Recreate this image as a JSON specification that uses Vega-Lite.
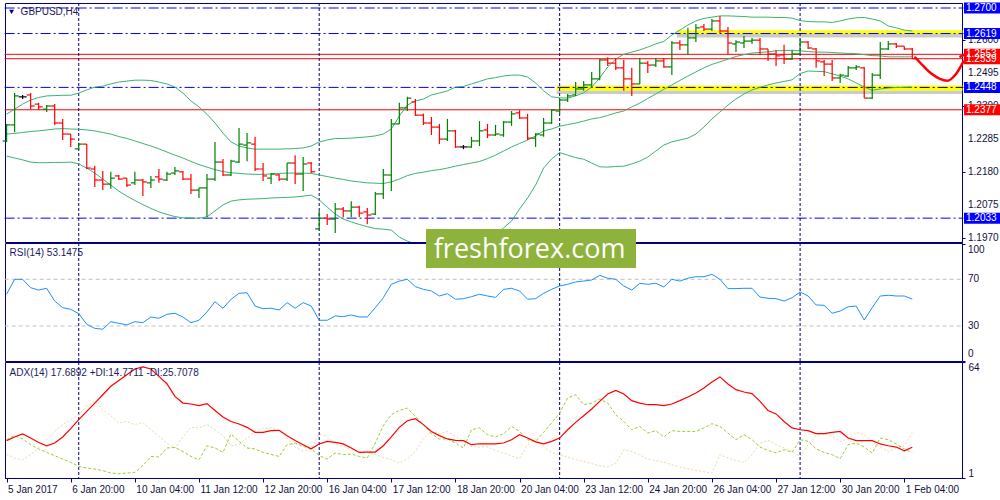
{
  "$schema": "https://vega.github.io/schema/vega-lite/v6.json",
  "background": "white",
  "padding": {"left": 2, "top": 2, "right": 0, "bottom": 0},
  "spacing": 1,
  "bounds": "flush",
  "config": {
    "view": {"stroke": "#000080", "strokeWidth": 1},
    "axis": {"labelFont": "Liberation Sans", "labelFontSize": 10, "labelColor": "#101040", "domainColor": "#000080", "tickColor": "#000080", "grid": false, "labelOverlap": false},
    "text": {"font": "Liberation Sans"}
  },
  "datasets": {
    "seps": [{"t": "9 Jan 00:00"}, {"t": "16 Jan 00:00"}, {"t": "23 Jan 00:00"}, {"t": "30 Jan 00:00"}],
    "bars": [
      {"t":"5 Jan 12:00","o":1.2278,"h":1.2332,"l":1.2275,"c":1.2329,"bu":1.2363,"bm":1.2300,"bl":1.2230,"rsi":57.2,"adx":21.3,"pdi":21.8,"mdi":13.7},
      {"t":"5 Jan 16:00","o":1.2329,"h":1.2430,"l":1.2306,"c":1.2421,"bu":1.2379,"bm":1.2302,"bl":1.2224,"rsi":70,"adx":23.3,"pdi":24,"mdi":11.9},
      {"t":"5 Jan 20:00","o":1.2418,"h":1.2424,"l":1.2411,"c":1.2418,"bu":1.2395,"bm":1.2305,"bl":1.2218,"rsi":70,"adx":24.9,"pdi":22.2,"mdi":10.9},
      {"t":"6 Jan 00:00","o":1.2424,"h":1.2430,"l":1.2379,"c":1.2389,"bu":1.2408,"bm":1.2308,"bl":1.2211,"rsi":62.8,"adx":22.7,"pdi":19.1,"mdi":13.7},
      {"t":"6 Jan 04:00","o":1.2395,"h":1.2399,"l":1.2376,"c":1.2386,"bu":1.2416,"bm":1.2310,"bl":1.2209,"rsi":60.8,"adx":20.3,"pdi":16.8,"mdi":17.3},
      {"t":"6 Jan 08:00","o":1.2379,"h":1.2392,"l":1.2370,"c":1.2389,"bu":1.2421,"bm":1.2313,"bl":1.2209,"rsi":62.3,"adx":18.5,"pdi":14.9,"mdi":21.8},
      {"t":"6 Jan 12:00","o":1.2389,"h":1.2395,"l":1.2329,"c":1.2335,"bu":1.2422,"bm":1.2316,"bl":1.2210,"rsi":51.4,"adx":20,"pdi":13.1,"mdi":26.3},
      {"t":"6 Jan 16:00","o":1.2335,"h":1.2348,"l":1.2281,"c":1.2300,"bu":1.2423,"bm":1.2317,"bl":1.2210,"rsi":45.7,"adx":23.3,"pdi":11.3,"mdi":30},
      {"t":"6 Jan 20:00","o":1.2300,"h":1.2300,"l":1.2259,"c":1.2284,"bu":1.2423,"bm":1.2316,"bl":1.2211,"rsi":44.3,"adx":27.8,"pdi":9.5,"mdi":32.7},
      {"t":"9 Jan 00:00","o":1.2253,"h":1.2272,"l":1.2249,"c":1.2268,"bu":1.2430,"bm":1.2315,"bl":1.2205,"rsi":40.5,"adx":32.7,"pdi":7.3,"mdi":35.4},
      {"t":"9 Jan 04:00","o":1.2268,"h":1.2268,"l":1.2189,"c":1.2192,"bu":1.2440,"bm":1.2313,"bl":1.2192,"rsi":31.5,"adx":37.2,"pdi":6.4,"mdi":39.9},
      {"t":"9 Jan 08:00","o":1.2189,"h":1.2199,"l":1.2132,"c":1.2154,"bu":1.2449,"bm":1.2310,"bl":1.2176,"rsi":28,"adx":41.7,"pdi":5.9,"mdi":42.6},
      {"t":"9 Jan 12:00","o":1.2154,"h":1.2183,"l":1.2122,"c":1.2141,"bu":1.2452,"bm":1.2305,"bl":1.2157,"rsi":27.2,"adx":46.2,"pdi":5,"mdi":38.1},
      {"t":"9 Jan 16:00","o":1.2141,"h":1.2180,"l":1.2126,"c":1.2160,"bu":1.2459,"bm":1.2300,"bl":1.2138,"rsi":33.7,"adx":50.8,"pdi":3.7,"mdi":34.8},
      {"t":"9 Jan 20:00","o":1.2167,"h":1.2170,"l":1.2154,"c":1.2157,"bu":1.2465,"bm":1.2292,"bl":1.2119,"rsi":32.3,"adx":54,"pdi":3.3,"mdi":30.9},
      {"t":"10 Jan 00:00","o":1.2160,"h":1.2160,"l":1.2132,"c":1.2138,"bu":1.2468,"bm":1.2286,"bl":1.2103,"rsi":30.9,"adx":57.1,"pdi":3.7,"mdi":31.7},
      {"t":"10 Jan 04:00","o":1.2145,"h":1.2180,"l":1.2138,"c":1.2154,"bu":1.2471,"bm":1.2278,"bl":1.2089,"rsi":33.7,"adx":60.2,"pdi":4,"mdi":30},
      {"t":"10 Jan 08:00","o":1.2154,"h":1.2157,"l":1.2103,"c":1.2148,"bu":1.2471,"bm":1.2270,"bl":1.2076,"rsi":32.8,"adx":61.3,"pdi":7.7,"mdi":31.2},
      {"t":"10 Jan 12:00","o":1.2145,"h":1.2167,"l":1.2129,"c":1.2154,"bu":1.2470,"bm":1.2262,"bl":1.2064,"rsi":37.7,"adx":60.2,"pdi":12.7,"mdi":27.2},
      {"t":"10 Jan 16:00","o":1.2164,"h":1.2189,"l":1.2145,"c":1.2157,"bu":1.2465,"bm":1.2253,"bl":1.2053,"rsi":36.6,"adx":56.2,"pdi":12.4,"mdi":23.6},
      {"t":"10 Jan 20:00","o":1.2154,"h":1.2180,"l":1.2151,"c":1.2173,"bu":1.2459,"bm":1.2243,"bl":1.2045,"rsi":40,"adx":52.2,"pdi":17.3,"mdi":20},
      {"t":"11 Jan 00:00","o":1.2176,"h":1.2195,"l":1.2170,"c":1.2183,"bu":1.2449,"bm":1.2233,"bl":1.2038,"rsi":40.9,"adx":45.3,"pdi":17.6,"mdi":17.3},
      {"t":"11 Jan 04:00","o":1.2180,"h":1.2183,"l":1.2154,"c":1.2157,"bu":1.2430,"bm":1.2224,"bl":1.2034,"rsi":37.7,"adx":41.7,"pdi":15.4,"mdi":23.3},
      {"t":"11 Jan 08:00","o":1.2157,"h":1.2173,"l":1.2110,"c":1.2122,"bu":1.2405,"bm":1.2213,"bl":1.2033,"rsi":32.8,"adx":41.2,"pdi":12.7,"mdi":28.5},
      {"t":"11 Jan 12:00","o":1.2122,"h":1.2129,"l":1.2097,"c":1.2129,"bu":1.2386,"bm":1.2203,"bl":1.2033,"rsi":34.9,"adx":40.3,"pdi":10.9,"mdi":28.2},
      {"t":"11 Jan 16:00","o":1.2129,"h":1.2173,"l":1.2037,"c":1.2157,"bu":1.2363,"bm":1.2195,"bl":1.2037,"rsi":42,"adx":41.4,"pdi":18.5,"mdi":30},
      {"t":"11 Jan 20:00","o":1.2157,"h":1.2275,"l":1.2151,"c":1.2211,"bu":1.2335,"bm":1.2187,"bl":1.2056,"rsi":50.8,"adx":37.7,"pdi":17.3,"mdi":27.2},
      {"t":"12 Jan 00:00","o":1.2211,"h":1.2221,"l":1.2167,"c":1.2170,"bu":1.2303,"bm":1.2181,"bl":1.2075,"rsi":45.2,"adx":34.1,"pdi":14.9,"mdi":24},
      {"t":"12 Jan 04:00","o":1.2170,"h":1.2218,"l":1.2167,"c":1.2214,"bu":1.2275,"bm":1.2177,"bl":1.2087,"rsi":52.9,"adx":31.7,"pdi":24.9,"mdi":18.5},
      {"t":"12 Jan 08:00","o":1.2211,"h":1.2319,"l":1.2208,"c":1.2268,"bu":1.2262,"bm":1.2175,"bl":1.2091,"rsi":58,"adx":30.3,"pdi":20.9,"mdi":19.1},
      {"t":"12 Jan 12:00","o":1.2265,"h":1.2303,"l":1.2214,"c":1.2272,"bu":1.2256,"bm":1.2173,"bl":1.2093,"rsi":58.5,"adx":28.5,"pdi":17.3,"mdi":22.7},
      {"t":"12 Jan 16:00","o":1.2268,"h":1.2291,"l":1.2183,"c":1.2189,"bu":1.2252,"bm":1.2172,"bl":1.2094,"rsi":47.1,"adx":25.8,"pdi":16.8,"mdi":26.3},
      {"t":"12 Jan 20:00","o":1.2189,"h":1.2208,"l":1.2151,"c":1.2167,"bu":1.2252,"bm":1.2172,"bl":1.2095,"rsi":44.8,"adx":25.8,"pdi":14.9,"mdi":28.2},
      {"t":"13 Jan 00:00","o":1.2160,"h":1.2176,"l":1.2141,"c":1.2173,"bu":1.2252,"bm":1.2173,"bl":1.2097,"rsi":45.2,"adx":26.7,"pdi":13.8,"mdi":28.2},
      {"t":"13 Jan 04:00","o":1.2170,"h":1.2173,"l":1.2151,"c":1.2157,"bu":1.2252,"bm":1.2175,"bl":1.2098,"rsi":43.7,"adx":26.9,"pdi":12.7,"mdi":26.3},
      {"t":"13 Jan 08:00","o":1.2157,"h":1.2208,"l":1.2151,"c":1.2208,"bu":1.2253,"bm":1.2176,"bl":1.2099,"rsi":50,"adx":24,"pdi":19.1,"mdi":22.7},
      {"t":"13 Jan 12:00","o":1.2208,"h":1.2233,"l":1.2141,"c":1.2173,"bu":1.2254,"bm":1.2176,"bl":1.2100,"rsi":45.2,"adx":21.4,"pdi":20,"mdi":17.8},
      {"t":"13 Jan 16:00","o":1.2173,"h":1.2227,"l":1.2119,"c":1.2205,"bu":1.2256,"bm":1.2176,"bl":1.2103,"rsi":50,"adx":19.1,"pdi":18.2,"mdi":15.4},
      {"t":"13 Jan 20:00","o":1.2208,"h":1.2211,"l":1.2176,"c":1.2180,"bu":1.2262,"bm":1.2175,"bl":1.2106,"rsi":47.1,"adx":16.9,"pdi":16.8,"mdi":17},
      {"t":"16 Jan 00:00","o":1.1999,"h":1.2056,"l":1.1995,"c":1.2033,"bu":1.2275,"bm":1.2170,"bl":1.2091,"rsi":34.9,"adx":19.5,"pdi":13.1,"mdi":25},
      {"t":"16 Jan 04:00","o":1.2033,"h":1.2046,"l":1.2011,"c":1.2030,"bu":1.2281,"bm":1.2165,"bl":1.2068,"rsi":34.9,"adx":20.9,"pdi":11.3,"mdi":23.5},
      {"t":"16 Jan 08:00","o":1.2030,"h":1.2081,"l":1.1986,"c":1.2062,"bu":1.2286,"bm":1.2160,"bl":1.2046,"rsi":38.6,"adx":20.3,"pdi":14.6,"mdi":19.1},
      {"t":"16 Jan 12:00","o":1.2062,"h":1.2068,"l":1.2037,"c":1.2056,"bu":1.2286,"bm":1.2156,"bl":1.2030,"rsi":38,"adx":19.5,"pdi":13.7,"mdi":18.2},
      {"t":"16 Jan 16:00","o":1.2056,"h":1.2087,"l":1.2037,"c":1.2068,"bu":1.2287,"bm":1.2151,"bl":1.2021,"rsi":39.4,"adx":17.3,"pdi":14,"mdi":16.4},
      {"t":"16 Jan 20:00","o":1.2068,"h":1.2072,"l":1.2037,"c":1.2049,"bu":1.2289,"bm":1.2148,"bl":1.2013,"rsi":37.7,"adx":14.9,"pdi":12.7,"mdi":15.4},
      {"t":"17 Jan 00:00","o":1.2053,"h":1.2065,"l":1.2014,"c":1.2043,"bu":1.2291,"bm":1.2145,"bl":1.2006,"rsi":37.7,"adx":15.1,"pdi":11.9,"mdi":15.4},
      {"t":"17 Jan 04:00","o":1.2046,"h":1.2116,"l":1.2043,"c":1.2110,"bu":1.2294,"bm":1.2144,"bl":1.2000,"rsi":45.7,"adx":15.1,"pdi":20,"mdi":13.7},
      {"t":"17 Jan 08:00","o":1.2110,"h":1.2189,"l":1.2094,"c":1.2170,"bu":1.2300,"bm":1.2143,"bl":1.1998,"rsi":54.2,"adx":18.5,"pdi":29.4,"mdi":12.2},
      {"t":"17 Jan 12:00","o":1.2170,"h":1.2348,"l":1.2119,"c":1.2332,"bu":1.2316,"bm":1.2148,"bl":1.1995,"rsi":65.7,"adx":23.3,"pdi":35.4,"mdi":10.9},
      {"t":"17 Jan 16:00","o":1.2332,"h":1.2399,"l":1.2332,"c":1.2383,"bu":1.2357,"bm":1.2157,"bl":1.1973,"rsi":68.5,"adx":28.5,"pdi":37.7,"mdi":9.1},
      {"t":"17 Jan 20:00","o":1.2383,"h":1.2418,"l":1.2373,"c":1.2414,"bu":1.2392,"bm":1.2168,"bl":1.1960,"rsi":70,"adx":32.1,"pdi":39,"mdi":11.3},
      {"t":"18 Jan 00:00","o":1.2402,"h":1.2411,"l":1.2357,"c":1.2360,"bu":1.2405,"bm":1.2175,"bl":1.1951,"rsi":63.7,"adx":33.2,"pdi":34.5,"mdi":15.4},
      {"t":"18 Jan 04:00","o":1.2360,"h":1.2364,"l":1.2329,"c":1.2335,"bu":1.2411,"bm":1.2179,"bl":1.1945,"rsi":61.4,"adx":30,"pdi":30,"mdi":22.7},
      {"t":"18 Jan 08:00","o":1.2335,"h":1.2354,"l":1.2297,"c":1.2322,"bu":1.2424,"bm":1.2184,"bl":1.1941,"rsi":60,"adx":26.3,"pdi":25.1,"mdi":26.3},
      {"t":"18 Jan 12:00","o":1.2322,"h":1.2332,"l":1.2268,"c":1.2284,"bu":1.2430,"bm":1.2187,"bl":1.1938,"rsi":55.7,"adx":24,"pdi":22.2,"mdi":25.1},
      {"t":"18 Jan 16:00","o":1.2284,"h":1.2348,"l":1.2278,"c":1.2310,"bu":1.2437,"bm":1.2192,"bl":1.1938,"rsi":57.7,"adx":22.2,"pdi":22.2,"mdi":26.3},
      {"t":"18 Jan 20:00","o":1.2310,"h":1.2313,"l":1.2256,"c":1.2259,"bu":1.2449,"bm":1.2198,"bl":1.1941,"rsi":52.9,"adx":21.4,"pdi":20,"mdi":23.6},
      {"t":"19 Jan 00:00","o":1.2259,"h":1.2265,"l":1.2252,"c":1.2259,"bu":1.2451,"bm":1.2203,"bl":1.1948,"rsi":53.4,"adx":21.3,"pdi":17.3,"mdi":20.9},
      {"t":"19 Jan 04:00","o":1.2259,"h":1.2291,"l":1.2256,"c":1.2278,"bu":1.2459,"bm":1.2208,"bl":1.1954,"rsi":55.1,"adx":19.1,"pdi":27.2,"mdi":18.2},
      {"t":"19 Jan 08:00","o":1.2278,"h":1.2341,"l":1.2262,"c":1.2310,"bu":1.2467,"bm":1.2213,"bl":1.1960,"rsi":57.2,"adx":19.6,"pdi":28.2,"mdi":17.8},
      {"t":"19 Jan 12:00","o":1.2313,"h":1.2332,"l":1.2287,"c":1.2297,"bu":1.2475,"bm":1.2222,"bl":1.1970,"rsi":55.7,"adx":19.5,"pdi":24.5,"mdi":18},
      {"t":"19 Jan 16:00","o":1.2297,"h":1.2329,"l":1.2294,"c":1.2300,"bu":1.2479,"bm":1.2233,"bl":1.1983,"rsi":54.5,"adx":19.5,"pdi":23.3,"mdi":16},
      {"t":"19 Jan 20:00","o":1.2297,"h":1.2341,"l":1.2291,"c":1.2338,"bu":1.2484,"bm":1.2246,"bl":1.2002,"rsi":61.4,"adx":20,"pdi":25,"mdi":14.6},
      {"t":"20 Jan 00:00","o":1.2338,"h":1.2373,"l":1.2326,"c":1.2364,"bu":1.2487,"bm":1.2259,"bl":1.2024,"rsi":62.3,"adx":21.8,"pdi":29,"mdi":13},
      {"t":"20 Jan 04:00","o":1.2367,"h":1.2376,"l":1.2348,"c":1.2351,"bu":1.2487,"bm":1.2270,"bl":1.2062,"rsi":60,"adx":24.5,"pdi":26.3,"mdi":11.5},
      {"t":"20 Jan 08:00","o":1.2351,"h":1.2364,"l":1.2281,"c":1.2287,"bu":1.2481,"bm":1.2281,"bl":1.2097,"rsi":52.9,"adx":22.7,"pdi":21.8,"mdi":19.1},
      {"t":"20 Jan 12:00","o":1.2287,"h":1.2303,"l":1.2259,"c":1.2300,"bu":1.2462,"bm":1.2294,"bl":1.2138,"rsi":53.4,"adx":20.6,"pdi":20.9,"mdi":22.2},
      {"t":"20 Jan 16:00","o":1.2297,"h":1.2351,"l":1.2291,"c":1.2335,"bu":1.2437,"bm":1.2310,"bl":1.2192,"rsi":58,"adx":19.5,"pdi":25.8,"mdi":17.8},
      {"t":"20 Jan 20:00","o":1.2335,"h":1.2379,"l":1.2332,"c":1.2376,"bu":1.2418,"bm":1.2316,"bl":1.2221,"rsi":61.4,"adx":20.9,"pdi":30.9,"mdi":14.9},
      {"t":"23 Jan 00:00","o":1.2373,"h":1.2411,"l":1.2364,"c":1.2408,"bu":1.2415,"bm":1.2325,"bl":1.2241,"rsi":64.3,"adx":22.7,"pdi":36.3,"mdi":13.7},
      {"t":"23 Jan 04:00","o":1.2408,"h":1.2427,"l":1.2402,"c":1.2421,"bu":1.2414,"bm":1.2330,"bl":1.2233,"rsi":65.7,"adx":27.2,"pdi":44.5,"mdi":12.2},
      {"t":"23 Jan 08:00","o":1.2424,"h":1.2465,"l":1.2421,"c":1.2443,"bu":1.2421,"bm":1.2335,"bl":1.2225,"rsi":67.7,"adx":31.2,"pdi":46.2,"mdi":11},
      {"t":"23 Jan 12:00","o":1.2443,"h":1.2468,"l":1.2437,"c":1.2456,"bu":1.2431,"bm":1.2341,"bl":1.2220,"rsi":68.5,"adx":34.8,"pdi":40.8,"mdi":10},
      {"t":"23 Jan 16:00","o":1.2456,"h":1.2497,"l":1.2449,"c":1.2475,"bu":1.2449,"bm":1.2348,"bl":1.2208,"rsi":69.4,"adx":38.5,"pdi":41.7,"mdi":8.8},
      {"t":"23 Jan 20:00","o":1.2475,"h":1.2538,"l":1.2471,"c":1.2535,"bu":1.2478,"bm":1.2352,"bl":1.2196,"rsi":73.4,"adx":42.6,"pdi":43.9,"mdi":7.7},
      {"t":"24 Jan 00:00","o":1.2535,"h":1.2544,"l":1.2516,"c":1.2525,"bu":1.2513,"bm":1.2359,"bl":1.2195,"rsi":70.9,"adx":46.6,"pdi":41.7,"mdi":7},
      {"t":"24 Jan 04:00","o":1.2525,"h":1.2541,"l":1.2503,"c":1.2510,"bu":1.2538,"bm":1.2367,"bl":1.2197,"rsi":70,"adx":48.6,"pdi":35.4,"mdi":9.1},
      {"t":"24 Jan 08:00","o":1.2510,"h":1.2535,"l":1.2437,"c":1.2475,"bu":1.2553,"bm":1.2373,"bl":1.2198,"rsi":64.3,"adx":46.6,"pdi":31.7,"mdi":16.4},
      {"t":"24 Jan 12:00","o":1.2475,"h":1.2510,"l":1.2421,"c":1.2459,"bu":1.2560,"bm":1.2386,"bl":1.2205,"rsi":60.8,"adx":43,"pdi":27.2,"mdi":15.4},
      {"t":"24 Jan 16:00","o":1.2459,"h":1.2541,"l":1.2459,"c":1.2525,"bu":1.2567,"bm":1.2398,"bl":1.2214,"rsi":66.6,"adx":41.7,"pdi":29,"mdi":13.5},
      {"t":"24 Jan 20:00","o":1.2525,"h":1.2532,"l":1.2494,"c":1.2519,"bu":1.2576,"bm":1.2413,"bl":1.2227,"rsi":65.7,"adx":40.8,"pdi":25.4,"mdi":11.3},
      {"t":"25 Jan 00:00","o":1.2519,"h":1.2541,"l":1.2513,"c":1.2532,"bu":1.2586,"bm":1.2427,"bl":1.2246,"rsi":66.6,"adx":40.8,"pdi":26.7,"mdi":10.4},
      {"t":"25 Jan 04:00","o":1.2532,"h":1.2541,"l":1.2510,"c":1.2513,"bu":1.2594,"bm":1.2442,"bl":1.2265,"rsi":63.4,"adx":40.3,"pdi":23.3,"mdi":9.5},
      {"t":"25 Jan 08:00","o":1.2513,"h":1.2595,"l":1.2487,"c":1.2589,"bu":1.2614,"bm":1.2456,"bl":1.2275,"rsi":70,"adx":41.2,"pdi":26.7,"mdi":8.2},
      {"t":"25 Jan 12:00","o":1.2589,"h":1.2598,"l":1.2567,"c":1.2583,"bu":1.2630,"bm":1.2470,"bl":1.2281,"rsi":68.5,"adx":43,"pdi":26.3,"mdi":7},
      {"t":"25 Jan 16:00","o":1.2583,"h":1.2637,"l":1.2551,"c":1.2605,"bu":1.2646,"bm":1.2484,"bl":1.2287,"rsi":70.9,"adx":45,"pdi":26.3,"mdi":6},
      {"t":"25 Jan 20:00","o":1.2605,"h":1.2649,"l":1.2592,"c":1.2637,"bu":1.2659,"bm":1.2497,"bl":1.2300,"rsi":72.2,"adx":47.2,"pdi":26.3,"mdi":5.1},
      {"t":"26 Jan 00:00","o":1.2640,"h":1.2649,"l":1.2627,"c":1.2633,"bu":1.2667,"bm":1.2510,"bl":1.2322,"rsi":72.2,"adx":49.9,"pdi":28.2,"mdi":4.4},
      {"t":"26 Jan 04:00","o":1.2633,"h":1.2665,"l":1.2627,"c":1.2659,"bu":1.2671,"bm":1.2521,"bl":1.2348,"rsi":74.3,"adx":53.1,"pdi":30.5,"mdi":3.7},
      {"t":"26 Jan 08:00","o":1.2659,"h":1.2675,"l":1.2621,"c":1.2627,"bu":1.2675,"bm":1.2529,"bl":1.2370,"rsi":70,"adx":55.9,"pdi":29,"mdi":13.7},
      {"t":"26 Jan 12:00","o":1.2627,"h":1.2640,"l":1.2554,"c":1.2589,"bu":1.2675,"bm":1.2538,"bl":1.2392,"rsi":62,"adx":52.1,"pdi":25.4,"mdi":11.9},
      {"t":"26 Jan 16:00","o":1.2586,"h":1.2598,"l":1.2560,"c":1.2592,"bu":1.2674,"bm":1.2546,"bl":1.2411,"rsi":62,"adx":49,"pdi":21.8,"mdi":10.5},
      {"t":"26 Jan 20:00","o":1.2589,"h":1.2611,"l":1.2573,"c":1.2595,"bu":1.2673,"bm":1.2552,"bl":1.2427,"rsi":62.3,"adx":47.7,"pdi":24.5,"mdi":9.5},
      {"t":"27 Jan 00:00","o":1.2595,"h":1.2605,"l":1.2586,"c":1.2598,"bu":1.2671,"bm":1.2557,"bl":1.2440,"rsi":62.3,"adx":46.8,"pdi":21.8,"mdi":13.7},
      {"t":"27 Jan 04:00","o":1.2598,"h":1.2605,"l":1.2551,"c":1.2570,"bu":1.2671,"bm":1.2559,"bl":1.2448,"rsi":54.8,"adx":42.6,"pdi":17.8,"mdi":20},
      {"t":"27 Jan 08:00","o":1.2570,"h":1.2570,"l":1.2532,"c":1.2554,"bu":1.2671,"bm":1.2561,"bl":1.2456,"rsi":53.7,"adx":37.7,"pdi":16,"mdi":21.4},
      {"t":"27 Jan 12:00","o":1.2554,"h":1.2567,"l":1.2516,"c":1.2548,"bu":1.2670,"bm":1.2564,"bl":1.2462,"rsi":53.4,"adx":35.8,"pdi":14.6,"mdi":19.1},
      {"t":"27 Jan 16:00","o":1.2551,"h":1.2583,"l":1.2522,"c":1.2538,"bu":1.2670,"bm":1.2565,"bl":1.2467,"rsi":51.4,"adx":31.7,"pdi":16.4,"mdi":17.3},
      {"t":"27 Jan 20:00","o":1.2538,"h":1.2567,"l":1.2535,"c":1.2554,"bu":1.2668,"bm":1.2566,"bl":1.2472,"rsi":54.2,"adx":28.2,"pdi":14.9,"mdi":15.4},
      {"t":"30 Jan 00:00","o":1.2554,"h":1.2602,"l":1.2554,"c":1.2592,"bu":1.2660,"bm":1.2564,"bl":1.2492,"rsi":59.1,"adx":27.2,"pdi":21.8,"mdi":12.7},
      {"t":"30 Jan 04:00","o":1.2592,"h":1.2595,"l":1.2570,"c":1.2573,"bu":1.2657,"bm":1.2562,"bl":1.2500,"rsi":55.7,"adx":26.7,"pdi":20.9,"mdi":19.1},
      {"t":"30 Jan 08:00","o":1.2570,"h":1.2573,"l":1.2510,"c":1.2532,"bu":1.2656,"bm":1.2560,"bl":1.2499,"rsi":48,"adx":25.1,"pdi":16.8,"mdi":24},
      {"t":"30 Jan 12:00","o":1.2529,"h":1.2535,"l":1.2484,"c":1.2522,"bu":1.2656,"bm":1.2560,"bl":1.2498,"rsi":47.7,"adx":25.1,"pdi":14.9,"mdi":25.1},
      {"t":"30 Jan 16:00","o":1.2522,"h":1.2535,"l":1.2468,"c":1.2478,"bu":1.2654,"bm":1.2559,"bl":1.2491,"rsi":40.9,"adx":25.8,"pdi":13.7,"mdi":23.6},
      {"t":"30 Jan 20:00","o":1.2478,"h":1.2491,"l":1.2462,"c":1.2487,"bu":1.2659,"bm":1.2557,"bl":1.2484,"rsi":42.8,"adx":26.3,"pdi":11.5,"mdi":20.9},
      {"t":"31 Jan 00:00","o":1.2484,"h":1.2516,"l":1.2481,"c":1.2510,"bu":1.2665,"bm":1.2556,"bl":1.2475,"rsi":46.5,"adx":22.7,"pdi":19.1,"mdi":22.2},
      {"t":"31 Jan 04:00","o":1.2510,"h":1.2519,"l":1.2503,"c":1.2513,"bu":1.2669,"bm":1.2555,"bl":1.2462,"rsi":47.1,"adx":21.3,"pdi":20,"mdi":25.8},
      {"t":"31 Jan 08:00","o":1.2510,"h":1.2513,"l":1.2414,"c":1.2414,"bu":1.2670,"bm":1.2552,"bl":1.2449,"rsi":35.1,"adx":21.3,"pdi":17.8,"mdi":24.5},
      {"t":"31 Jan 12:00","o":1.2414,"h":1.2494,"l":1.2411,"c":1.2487,"bu":1.2665,"bm":1.2549,"bl":1.2439,"rsi":45.7,"adx":21.3,"pdi":14.6,"mdi":20.9},
      {"t":"31 Jan 16:00","o":1.2487,"h":1.2592,"l":1.2475,"c":1.2570,"bu":1.2659,"bm":1.2548,"bl":1.2443,"rsi":55.7,"adx":19.5,"pdi":22.7,"mdi":17.8},
      {"t":"31 Jan 20:00","o":1.2570,"h":1.2595,"l":1.2567,"c":1.2586,"bu":1.2643,"bm":1.2545,"bl":1.2446,"rsi":56.3,"adx":18.5,"pdi":21.8,"mdi":15.4},
      {"t":"1 Feb 00:00","o":1.2586,"h":1.2589,"l":1.2573,"c":1.2579,"bu":1.2637,"bm":1.2545,"bl":1.2448,"rsi":55.7,"adx":17.8,"pdi":19.5,"mdi":17},
      {"t":"1 Feb 04:00","o":1.2579,"h":1.2579,"l":1.2567,"c":1.2570,"bu":1.2630,"bm":1.2545,"bl":1.2448,"rsi":55.7,"adx":15.8,"pdi":16.8,"mdi":18.5},
      {"t":"1 Feb 08:00","o":1.2570,"h":1.2573,"l":1.2539,"c":1.2539,"bu":1.2627,"bm":1.2545,"bl":1.2449,"rsi":53.1,"adx":17.7,"pdi":14.8,"mdi":25.7}
    ]
  },
  "vconcat": [
    {
      "width": 957,
      "height": 239,
      "encoding": {
        "x": {"field": "t", "type": "ordinal", "title": null, "axis": null,
          "scale": {"type": "point", "padding": 0.2, "domain": ["5 Jan 12:00","5 Jan 16:00","5 Jan 20:00","6 Jan 00:00","6 Jan 04:00","6 Jan 08:00","6 Jan 12:00","6 Jan 16:00","6 Jan 20:00","9 Jan 00:00","9 Jan 04:00","9 Jan 08:00","9 Jan 12:00","9 Jan 16:00","9 Jan 20:00","10 Jan 00:00","10 Jan 04:00","10 Jan 08:00","10 Jan 12:00","10 Jan 16:00","10 Jan 20:00","11 Jan 00:00","11 Jan 04:00","11 Jan 08:00","11 Jan 12:00","11 Jan 16:00","11 Jan 20:00","12 Jan 00:00","12 Jan 04:00","12 Jan 08:00","12 Jan 12:00","12 Jan 16:00","12 Jan 20:00","13 Jan 00:00","13 Jan 04:00","13 Jan 08:00","13 Jan 12:00","13 Jan 16:00","13 Jan 20:00","16 Jan 00:00","16 Jan 04:00","16 Jan 08:00","16 Jan 12:00","16 Jan 16:00","16 Jan 20:00","17 Jan 00:00","17 Jan 04:00","17 Jan 08:00","17 Jan 12:00","17 Jan 16:00","17 Jan 20:00","18 Jan 00:00","18 Jan 04:00","18 Jan 08:00","18 Jan 12:00","18 Jan 16:00","18 Jan 20:00","19 Jan 00:00","19 Jan 04:00","19 Jan 08:00","19 Jan 12:00","19 Jan 16:00","19 Jan 20:00","20 Jan 00:00","20 Jan 04:00","20 Jan 08:00","20 Jan 12:00","20 Jan 16:00","20 Jan 20:00","23 Jan 00:00","23 Jan 04:00","23 Jan 08:00","23 Jan 12:00","23 Jan 16:00","23 Jan 20:00","24 Jan 00:00","24 Jan 04:00","24 Jan 08:00","24 Jan 12:00","24 Jan 16:00","24 Jan 20:00","25 Jan 00:00","25 Jan 04:00","25 Jan 08:00","25 Jan 12:00","25 Jan 16:00","25 Jan 20:00","26 Jan 00:00","26 Jan 04:00","26 Jan 08:00","26 Jan 12:00","26 Jan 16:00","26 Jan 20:00","27 Jan 00:00","27 Jan 04:00","27 Jan 08:00","27 Jan 12:00","27 Jan 16:00","27 Jan 20:00","30 Jan 00:00","30 Jan 04:00","30 Jan 08:00","30 Jan 12:00","30 Jan 16:00","30 Jan 20:00","31 Jan 00:00","31 Jan 04:00","31 Jan 08:00","31 Jan 12:00","31 Jan 16:00","31 Jan 20:00","1 Feb 00:00","1 Feb 04:00","1 Feb 08:00","1 Feb 12:00","1 Feb 16:00","1 Feb 20:00","2 Feb 00:00","2 Feb 04:00","2 Feb 08:00"]}}
      },
      "layer": [
        {
          "data": {"name": "bars"},
          "mark": {"type": "rule", "strokeWidth": 1.2},
          "encoding": {
            "y": {"field": "l", "type": "quantitative", "scale": {"domain": [1.19573, 1.27159]}, "title": null,
              "axis": {"orient": "right", "values": [1.197, 1.2075, 1.218, 1.2285, 1.239, 1.2495, 1.26], "labels": false, "tickSize": 3}},
            "y2": {"field": "h"},
            "color": {"value": "transparent"}
          }
        },
        {
          "data": {"values": [
            {"t": "25 Jan 12:00", "t2": "2 Feb 08:00", "top": 1.26175, "bot": 1.26064},
            {"t": "23 Jan 00:00", "t2": "2 Feb 08:00", "top": 1.2438, "bot": 1.2427}
          ]},
          "mark": {"type": "rect", "color": "#8c8c8c", "opacity": 0.45, "xOffset": -3, "x2Offset": 2},
          "encoding": {
            "x2": {"field": "t2"},
            "y": {"field": "top", "type": "quantitative", "scale": {"domain": [1.19573, 1.27159]}, "title": null},
            "y2": {"field": "bot"}
          }
        },
        {
          "data": {"values": [
            {"t": "25 Jan 12:00", "t2": "2 Feb 08:00", "top": 1.26292, "bot": 1.26175},
            {"t": "23 Jan 00:00", "t2": "2 Feb 08:00", "top": 1.24539, "bot": 1.2438}
          ]},
          "mark": {"type": "rect", "color": "#ffff00", "xOffset": -3, "x2Offset": 2},
          "encoding": {
            "x2": {"field": "t2"},
            "y": {"field": "top", "type": "quantitative", "scale": {"domain": [1.19573, 1.27159]}, "title": null},
            "y2": {"field": "bot"}
          }
        },
        {
          "data": {"values": [
            {"t": "5 Jan 12:00", "t2": "2 Feb 08:00", "p": 1.27},
            {"t": "5 Jan 12:00", "t2": "2 Feb 08:00", "p": 1.2619},
            {"t": "5 Jan 12:00", "t2": "23 Jan 00:00", "p": 1.2448},
            {"t": "5 Jan 12:00", "t2": "2 Feb 08:00", "p": 1.2033}
          ]},
          "mark": {"type": "rule", "color": "#0000ff", "strokeWidth": 1, "strokeDash": [10, 3, 2, 3], "xOffset": -2, "x2Offset": 3},
          "encoding": {
            "x2": {"field": "t2"},
            "y": {"field": "p", "type": "quantitative", "scale": {"domain": [1.19573, 1.27159]}, "title": null}
          }
        },
        {
          "data": {"values": [{"t": "23 Jan 00:00", "t2": "2 Feb 08:00", "p": 1.2448}]},
          "mark": {"type": "rule", "color": "#000000", "strokeWidth": 1, "strokeDash": [10, 3, 2, 3], "x2Offset": 3},
          "encoding": {
            "x2": {"field": "t2"},
            "y": {"field": "p", "type": "quantitative", "scale": {"domain": [1.19573, 1.27159]}, "title": null}
          }
        },
        {
          "data": {"values": [
            {"t": "5 Jan 12:00", "t2": "2 Feb 08:00", "p": 1.2553},
            {"t": "5 Jan 12:00", "t2": "2 Feb 08:00", "p": 1.2539},
            {"t": "5 Jan 12:00", "t2": "2 Feb 08:00", "p": 1.2377}
          ]},
          "mark": {"type": "rule", "color": "#ff0000", "strokeWidth": 1, "xOffset": -2, "x2Offset": 3},
          "encoding": {
            "x2": {"field": "t2"},
            "y": {"field": "p", "type": "quantitative", "scale": {"domain": [1.19573, 1.27159]}, "title": null}
          }
        },
        {
          "data": {"name": "seps"},
          "mark": {"type": "rule", "color": "#000080", "strokeWidth": 1, "strokeDash": [3, 2]},
          "encoding": {}
        },
        {
          "data": {"name": "bars"},
          "mark": {"type": "line", "color": "#3cb371", "strokeWidth": 1, "clip": true},
          "encoding": {"y": {"field": "bu", "type": "quantitative", "scale": {"domain": [1.19573, 1.27159]}, "title": null}}
        },
        {
          "data": {"name": "bars"},
          "mark": {"type": "line", "color": "#3cb371", "strokeWidth": 1, "clip": true},
          "encoding": {"y": {"field": "bm", "type": "quantitative", "scale": {"domain": [1.19573, 1.27159]}, "title": null}}
        },
        {
          "data": {"name": "bars"},
          "mark": {"type": "line", "color": "#3cb371", "strokeWidth": 1, "clip": true},
          "encoding": {"y": {"field": "bl", "type": "quantitative", "scale": {"domain": [1.19573, 1.27159]}, "title": null}}
        },
        {
          "data": {"name": "bars"},
          "mark": {"type": "rule", "strokeWidth": 1.2},
          "encoding": {
            "y": {"field": "l", "type": "quantitative", "scale": {"domain": [1.19573, 1.27159]}, "title": null},
            "y2": {"field": "h"},
            "color": {"condition": [{"test": "datum.c > datum.o", "value": "#008000"}, {"test": "datum.c < datum.o", "value": "#ff0000"}], "value": "#000000"}
          }
        },
        {
          "data": {"name": "bars"},
          "mark": {"type": "tick", "orient": "horizontal", "size": 4, "thickness": 1.2, "xOffset": -2, "opacity": 1},
          "encoding": {
            "y": {"field": "o", "type": "quantitative", "scale": {"domain": [1.19573, 1.27159]}, "title": null},
            "color": {"condition": [{"test": "datum.c > datum.o", "value": "#008000"}, {"test": "datum.c < datum.o", "value": "#ff0000"}], "value": "#000000"}
          }
        },
        {
          "data": {"name": "bars"},
          "mark": {"type": "tick", "orient": "horizontal", "size": 4, "thickness": 1.2, "xOffset": 2, "opacity": 1},
          "encoding": {
            "y": {"field": "c", "type": "quantitative", "scale": {"domain": [1.19573, 1.27159]}, "title": null},
            "color": {"condition": [{"test": "datum.c > datum.o", "value": "#008000"}, {"test": "datum.c < datum.o", "value": "#ff0000"}], "value": "#000000"}
          }
        },
        {
          "data": {"values": [
            {"t": "1 Feb 08:00", "p": 1.2543},
            {"t": "1 Feb 12:00", "p": 1.2516},
            {"t": "1 Feb 16:00", "p": 1.2492},
            {"t": "1 Feb 20:00", "p": 1.2476},
            {"t": "2 Feb 00:00", "p": 1.2469},
            {"t": "2 Feb 04:00", "p": 1.2488},
            {"t": "2 Feb 08:00", "p": 1.2530}
          ]},
          "mark": {"type": "line", "color": "#ff0000", "strokeWidth": 2.5, "interpolate": "monotone", "strokeCap": "round", "xOffset": 3},
          "encoding": {"y": {"field": "p", "type": "quantitative", "scale": {"domain": [1.19573, 1.27159]}, "title": null}}
        },
        {
          "data": {"values": [{"t": "2 Feb 08:00", "p": 1.2545}]},
          "mark": {"type": "point", "shape": "M-0.9,0.7L0,-1L0.9,0.7", "filled": false, "stroke": "#ff0000", "strokeWidth": 2.5, "size": 110, "angle": 35, "xOffset": 5, "opacity": 1},
          "encoding": {"y": {"field": "p", "type": "quantitative", "scale": {"domain": [1.19573, 1.27159]}, "title": null}}
        },
        {
          "data": {"values": [
            {"p": 1.197, "txt": "1.1970"},
            {"p": 1.2075, "txt": "1.2075"},
            {"p": 1.218, "txt": "1.2180"},
            {"p": 1.2285, "txt": "1.2285"},
            {"p": 1.239, "txt": "1.2390"},
            {"p": 1.2495, "txt": "1.2495"},
            {"p": 1.26, "txt": "1.2600"}
          ]},
          "mark": {"type": "text", "align": "left", "baseline": "middle", "dx": 6, "fontSize": 10, "color": "#101040"},
          "encoding": {
            "x": {"value": "width"},
            "y": {"field": "p", "type": "quantitative", "scale": {"domain": [1.19573, 1.27159]}, "title": null},
            "text": {"field": "txt"}
          }
        },
        {
          "data": {"values": [
            {"p": 1.27, "txt": "1.2700", "k": "b"},
            {"p": 1.2619, "txt": "1.2619", "k": "b"},
            {"p": 1.2448, "txt": "1.2448", "k": "b"},
            {"p": 1.2033, "txt": "1.2033", "k": "b"},
            {"p": 1.2553, "txt": "1.2553", "k": "r"},
            {"p": 1.2539, "txt": "1.2539", "k": "r"},
            {"p": 1.2377, "txt": "1.2377", "k": "r"}
          ]},
          "layer": [
            {
              "mark": {"type": "rect", "width": 38, "height": 11, "xOffset": 21},
              "encoding": {
                "x": {"value": "width"},
                "y": {"field": "p", "type": "quantitative", "scale": {"domain": [1.19573, 1.27159]}, "title": null},
                "color": {"field": "k", "type": "nominal", "scale": {"domain": ["b", "r"], "range": ["#0000ff", "#ff0000"]}, "legend": null}
              }
            },
            {
              "mark": {"type": "text", "align": "left", "baseline": "middle", "dx": 4, "fontSize": 10, "color": "#ffffff"},
              "encoding": {
                "x": {"value": "width"},
                "y": {"field": "p", "type": "quantitative", "scale": {"domain": [1.19573, 1.27159]}, "title": null},
                "text": {"field": "txt"}
              }
            }
          ]
        },
        {
          "data": {"values": [{"t": "5 Jan 12:00", "p": 1.2688, "txt": "GBPUSD,H4"}]},
          "layer": [
            {
              "mark": {"type": "point", "shape": "triangle-down", "filled": true, "size": 24, "color": "#000080", "xOffset": 5, "opacity": 1},
              "encoding": {"y": {"field": "p", "type": "quantitative", "scale": {"domain": [1.19573, 1.27159]}, "title": null}}
            },
            {
              "mark": {"type": "text", "align": "left", "baseline": "middle", "dx": 14, "fontSize": 10, "color": "#1a1a60"},
              "encoding": {
                "y": {"field": "p", "type": "quantitative", "scale": {"domain": [1.19573, 1.27159]}, "title": null},
                "text": {"field": "txt"}
              }
            }
          ]
        }
      ]
    },
    {
      "width": 957,
      "height": 118,
      "encoding": {
        "x": {"field": "t", "type": "ordinal", "title": null, "axis": null,
          "scale": {"type": "point", "padding": 0.2, "domain": ["5 Jan 12:00","5 Jan 16:00","5 Jan 20:00","6 Jan 00:00","6 Jan 04:00","6 Jan 08:00","6 Jan 12:00","6 Jan 16:00","6 Jan 20:00","9 Jan 00:00","9 Jan 04:00","9 Jan 08:00","9 Jan 12:00","9 Jan 16:00","9 Jan 20:00","10 Jan 00:00","10 Jan 04:00","10 Jan 08:00","10 Jan 12:00","10 Jan 16:00","10 Jan 20:00","11 Jan 00:00","11 Jan 04:00","11 Jan 08:00","11 Jan 12:00","11 Jan 16:00","11 Jan 20:00","12 Jan 00:00","12 Jan 04:00","12 Jan 08:00","12 Jan 12:00","12 Jan 16:00","12 Jan 20:00","13 Jan 00:00","13 Jan 04:00","13 Jan 08:00","13 Jan 12:00","13 Jan 16:00","13 Jan 20:00","16 Jan 00:00","16 Jan 04:00","16 Jan 08:00","16 Jan 12:00","16 Jan 16:00","16 Jan 20:00","17 Jan 00:00","17 Jan 04:00","17 Jan 08:00","17 Jan 12:00","17 Jan 16:00","17 Jan 20:00","18 Jan 00:00","18 Jan 04:00","18 Jan 08:00","18 Jan 12:00","18 Jan 16:00","18 Jan 20:00","19 Jan 00:00","19 Jan 04:00","19 Jan 08:00","19 Jan 12:00","19 Jan 16:00","19 Jan 20:00","20 Jan 00:00","20 Jan 04:00","20 Jan 08:00","20 Jan 12:00","20 Jan 16:00","20 Jan 20:00","23 Jan 00:00","23 Jan 04:00","23 Jan 08:00","23 Jan 12:00","23 Jan 16:00","23 Jan 20:00","24 Jan 00:00","24 Jan 04:00","24 Jan 08:00","24 Jan 12:00","24 Jan 16:00","24 Jan 20:00","25 Jan 00:00","25 Jan 04:00","25 Jan 08:00","25 Jan 12:00","25 Jan 16:00","25 Jan 20:00","26 Jan 00:00","26 Jan 04:00","26 Jan 08:00","26 Jan 12:00","26 Jan 16:00","26 Jan 20:00","27 Jan 00:00","27 Jan 04:00","27 Jan 08:00","27 Jan 12:00","27 Jan 16:00","27 Jan 20:00","30 Jan 00:00","30 Jan 04:00","30 Jan 08:00","30 Jan 12:00","30 Jan 16:00","30 Jan 20:00","31 Jan 00:00","31 Jan 04:00","31 Jan 08:00","31 Jan 12:00","31 Jan 16:00","31 Jan 20:00","1 Feb 00:00","1 Feb 04:00","1 Feb 08:00","1 Feb 12:00","1 Feb 16:00","1 Feb 20:00","2 Feb 00:00","2 Feb 04:00","2 Feb 08:00"]}}
      },
      "layer": [
        {
          "data": {"name": "bars"},
          "mark": {"type": "line", "color": "#1e90ff", "strokeWidth": 1, "opacity": 0},
          "encoding": {
            "y": {"field": "rsi", "type": "quantitative", "scale": {"domain": [0, 101.1]}, "title": null,
              "axis": {"orient": "right", "values": [0, 30, 70, 100], "labels": false, "tickSize": 3}}
          }
        },
        {
          "data": {"values": [
            {"t": "5 Jan 12:00", "t2": "2 Feb 08:00", "v": 70},
            {"t": "5 Jan 12:00", "t2": "2 Feb 08:00", "v": 30}
          ]},
          "mark": {"type": "rule", "color": "#c0c0c0", "strokeWidth": 1, "strokeDash": [4, 3], "xOffset": -2, "x2Offset": 3},
          "encoding": {
            "x2": {"field": "t2"},
            "y": {"field": "v", "type": "quantitative", "scale": {"domain": [0, 101.1]}, "title": null}
          }
        },
        {
          "data": {"name": "seps"},
          "mark": {"type": "rule", "color": "#000080", "strokeWidth": 1, "strokeDash": [3, 2]},
          "encoding": {}
        },
        {
          "data": {"name": "bars"},
          "mark": {"type": "line", "color": "#1e90ff", "strokeWidth": 1},
          "encoding": {"y": {"field": "rsi", "type": "quantitative", "scale": {"domain": [0, 101.1]}, "title": null}}
        },
        {
          "data": {"values": [{"v": 70, "txt": "70"}, {"v": 30, "txt": "30"}]},
          "mark": {"type": "text", "align": "left", "baseline": "middle", "dx": 6, "fontSize": 10, "color": "#101040"},
          "encoding": {
            "x": {"value": "width"},
            "y": {"field": "v", "type": "quantitative", "scale": {"domain": [0, 101.1]}, "title": null},
            "text": {"field": "txt"}
          }
        },
        {
          "data": {"values": [{"v": 100, "txt": "100"}]},
          "mark": {"type": "text", "align": "left", "baseline": "top", "dx": 6, "dy": 1, "fontSize": 10, "color": "#101040"},
          "encoding": {
            "x": {"value": "width"},
            "y": {"field": "v", "type": "quantitative", "scale": {"domain": [0, 101.1]}, "title": null},
            "text": {"field": "txt"}
          }
        },
        {
          "data": {"values": [{"v": 0, "txt": "0"}]},
          "mark": {"type": "text", "align": "left", "baseline": "bottom", "dx": 6, "dy": -2, "fontSize": 10, "color": "#101040"},
          "encoding": {
            "x": {"value": "width"},
            "y": {"field": "v", "type": "quantitative", "scale": {"domain": [0, 101.1]}, "title": null},
            "text": {"field": "txt"}
          }
        },
        {
          "data": {"values": [{"t": "5 Jan 12:00", "v": 92.8, "txt": "RSI(14) 53.1475"}]},
          "mark": {"type": "text", "align": "left", "baseline": "middle", "dx": 3, "fontSize": 10, "color": "#1a1a60"},
          "encoding": {
            "y": {"field": "v", "type": "quantitative", "scale": {"domain": [0, 101.1]}, "title": null},
            "text": {"field": "txt"}
          }
        },
        {
          "data": {"values": [{"t": "18 Jan 04:00", "t2": "24 Jan 16:00", "top": 113.1, "bot": 79.7}]},
          "mark": {"type": "rect", "color": "#8db33c", "xOffset": 2.6, "x2Offset": -3.8},
          "encoding": {
            "x2": {"field": "t2"},
            "y": {"field": "top", "type": "quantitative", "scale": {"domain": [0, 101.1]}, "title": null},
            "y2": {"field": "bot"}
          }
        },
        {
          "data": {"values": [{"t": "20 Jan 08:00", "v": 88.2, "txt": "freshforex.com"}]},
          "mark": {"type": "text", "align": "center", "baseline": "alphabetic", "dx": 2, "font": "Open Sans", "fontSize": 27, "color": "#ffffff"},
          "encoding": {
            "y": {"field": "v", "type": "quantitative", "scale": {"domain": [0, 101.1]}, "title": null},
            "text": {"field": "txt"}
          }
        }
      ]
    },
    {
      "width": 957,
      "height": 116,
      "encoding": {
        "x": {"field": "t", "type": "ordinal", "title": null,
          "axis": {"values": ["5 Jan 12:00", "6 Jan 20:00", "10 Jan 04:00", "11 Jan 12:00", "12 Jan 20:00", "16 Jan 04:00", "17 Jan 12:00", "18 Jan 20:00", "20 Jan 04:00", "23 Jan 12:00", "24 Jan 20:00", "26 Jan 04:00", "27 Jan 12:00", "30 Jan 20:00", "1 Feb 04:00"],
            "labelExpr": "datum.value == '5 Jan 12:00' ? '5 Jan 2017' : datum.value",
            "labelAlign": "left", "labelAngle": 0, "tickSize": 4, "labelPadding": 2, "labelOverlap": false, "labelOffset": 1},
          "scale": {"type": "point", "padding": 0.2, "domain": ["5 Jan 12:00","5 Jan 16:00","5 Jan 20:00","6 Jan 00:00","6 Jan 04:00","6 Jan 08:00","6 Jan 12:00","6 Jan 16:00","6 Jan 20:00","9 Jan 00:00","9 Jan 04:00","9 Jan 08:00","9 Jan 12:00","9 Jan 16:00","9 Jan 20:00","10 Jan 00:00","10 Jan 04:00","10 Jan 08:00","10 Jan 12:00","10 Jan 16:00","10 Jan 20:00","11 Jan 00:00","11 Jan 04:00","11 Jan 08:00","11 Jan 12:00","11 Jan 16:00","11 Jan 20:00","12 Jan 00:00","12 Jan 04:00","12 Jan 08:00","12 Jan 12:00","12 Jan 16:00","12 Jan 20:00","13 Jan 00:00","13 Jan 04:00","13 Jan 08:00","13 Jan 12:00","13 Jan 16:00","13 Jan 20:00","16 Jan 00:00","16 Jan 04:00","16 Jan 08:00","16 Jan 12:00","16 Jan 16:00","16 Jan 20:00","17 Jan 00:00","17 Jan 04:00","17 Jan 08:00","17 Jan 12:00","17 Jan 16:00","17 Jan 20:00","18 Jan 00:00","18 Jan 04:00","18 Jan 08:00","18 Jan 12:00","18 Jan 16:00","18 Jan 20:00","19 Jan 00:00","19 Jan 04:00","19 Jan 08:00","19 Jan 12:00","19 Jan 16:00","19 Jan 20:00","20 Jan 00:00","20 Jan 04:00","20 Jan 08:00","20 Jan 12:00","20 Jan 16:00","20 Jan 20:00","23 Jan 00:00","23 Jan 04:00","23 Jan 08:00","23 Jan 12:00","23 Jan 16:00","23 Jan 20:00","24 Jan 00:00","24 Jan 04:00","24 Jan 08:00","24 Jan 12:00","24 Jan 16:00","24 Jan 20:00","25 Jan 00:00","25 Jan 04:00","25 Jan 08:00","25 Jan 12:00","25 Jan 16:00","25 Jan 20:00","26 Jan 00:00","26 Jan 04:00","26 Jan 08:00","26 Jan 12:00","26 Jan 16:00","26 Jan 20:00","27 Jan 00:00","27 Jan 04:00","27 Jan 08:00","27 Jan 12:00","27 Jan 16:00","27 Jan 20:00","30 Jan 00:00","30 Jan 04:00","30 Jan 08:00","30 Jan 12:00","30 Jan 16:00","30 Jan 20:00","31 Jan 00:00","31 Jan 04:00","31 Jan 08:00","31 Jan 12:00","31 Jan 16:00","31 Jan 20:00","1 Feb 00:00","1 Feb 04:00","1 Feb 08:00","1 Feb 12:00","1 Feb 16:00","1 Feb 20:00","2 Feb 00:00","2 Feb 04:00","2 Feb 08:00"]}}
      },
      "layer": [
        {
          "data": {"name": "bars"},
          "mark": {"type": "line", "color": "#ff0000", "strokeWidth": 1, "opacity": 0},
          "encoding": {
            "y": {"field": "adx", "type": "quantitative", "scale": {"domain": [1, 64]}, "title": null,
              "axis": {"orient": "right", "values": [1, 64], "tickSize": 3, "labelPadding": 3, "labelFlush": 5, "labelOverlap": false}}
          }
        },
        {
          "data": {"name": "seps"},
          "mark": {"type": "rule", "color": "#000080", "strokeWidth": 1, "strokeDash": [3, 2]},
          "encoding": {}
        },
        {
          "data": {"name": "bars"},
          "mark": {"type": "line", "color": "#f0d6a6", "strokeWidth": 1, "strokeDash": [2, 2]},
          "encoding": {"y": {"field": "mdi", "type": "quantitative", "scale": {"domain": [1, 64]}, "title": null}}
        },
        {
          "data": {"name": "bars"},
          "mark": {"type": "line", "color": "#9acd32", "strokeWidth": 1, "strokeDash": [3, 2]},
          "encoding": {"y": {"field": "pdi", "type": "quantitative", "scale": {"domain": [1, 64]}, "title": null}}
        },
        {
          "data": {"name": "bars"},
          "mark": {"type": "line", "color": "#ff0000", "strokeWidth": 1.2},
          "encoding": {"y": {"field": "adx", "type": "quantitative", "scale": {"domain": [1, 64]}, "title": null}}
        },
        {
          "data": {"values": [{"t": "5 Jan 12:00", "v": 58.2, "txt": "ADX(14) 17.6892 +DI:14.7711 -DI:25.7078"}]},
          "mark": {"type": "text", "align": "left", "baseline": "middle", "dx": 3, "fontSize": 10, "color": "#1a1a60"},
          "encoding": {
            "y": {"field": "v", "type": "quantitative", "scale": {"domain": [1, 64]}, "title": null},
            "text": {"field": "txt"}
          }
        }
      ]
    }
  ]
}
